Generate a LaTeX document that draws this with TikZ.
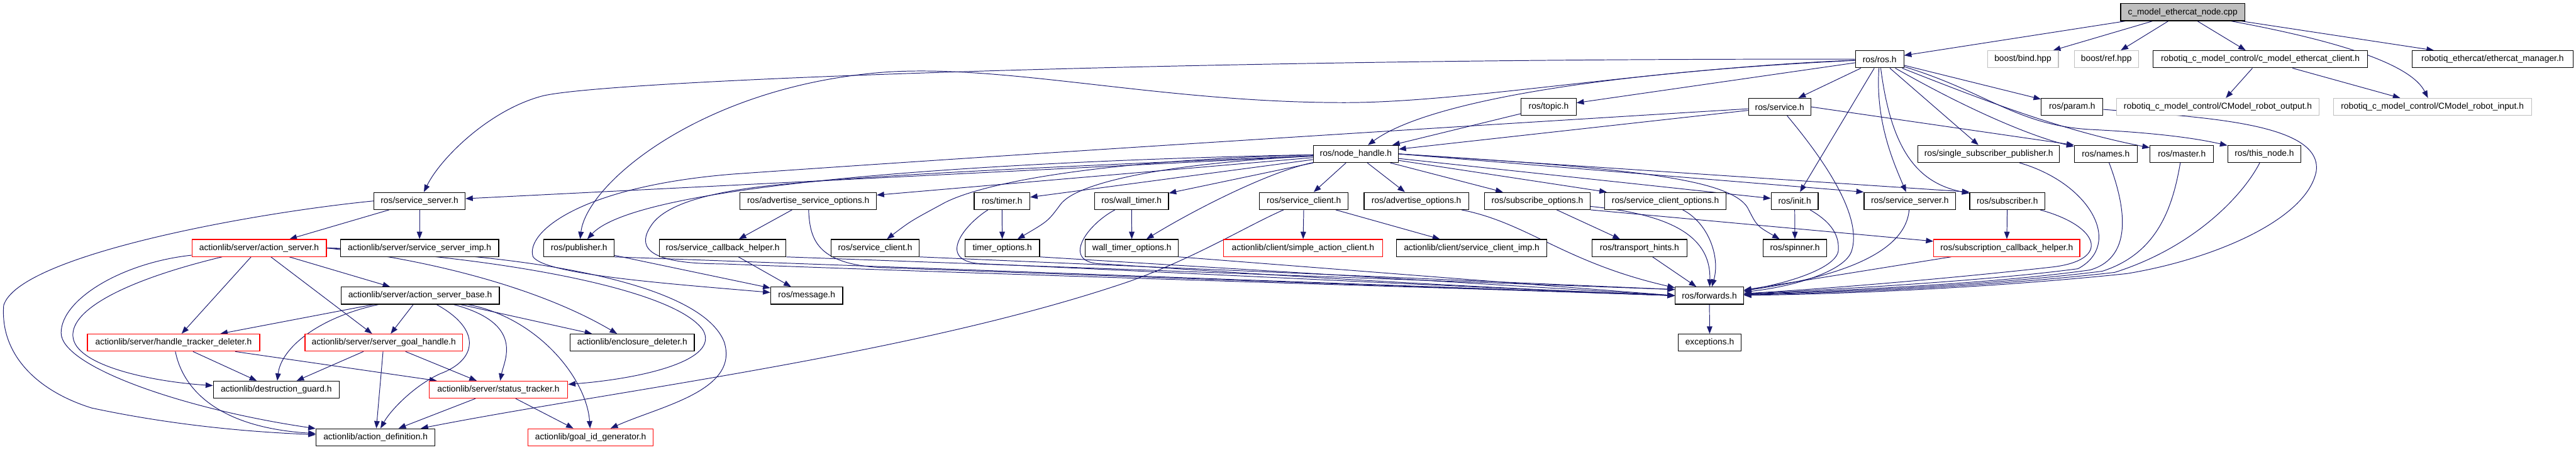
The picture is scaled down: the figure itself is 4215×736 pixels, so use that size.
\documentclass[tikz,border=0pt]{standalone}
\usepackage{fontspec}
\newfontfamily\lblfont{Liberation Sans}
\usetikzlibrary{arrows.meta,backgrounds}
\definecolor{eblue}{HTML}{191970}
\definecolor{gfill}{HTML}{BFBFBF}
\definecolor{gbord}{HTML}{BFBFBF}
\tikzset{
 bx/.style={rectangle, draw=black, line width=0.6pt, fill=white, minimum height=14pt, inner sep=0pt, font=\lblfont\fontsize{7.1}{8.5}\selectfont},
 rbx/.style={bx, draw=red},
 gbx/.style={bx, draw=gbord},
 cbx/.style={bx, fill=gfill},
 dep/.style={draw=eblue, line width=0.5pt, -{Triangle[length=6pt,width=4.5pt]}},
}
\newcommand\bxn[6]{\node[#6, minimum width={(#3-#2)*0.5pt}] (#1) at ({(#2+#3)/2},#4) {#5};}
\begin{document}
\begin{tikzpicture}[x=0.5pt,y=-0.5pt]
\useasboundingbox (0,0) rectangle (4215,736);
% row 0-1
\bxn{cpp}{3470}{3673}{20}{c\_model\_ethercat\_node.cpp}{cbx}
\bxn{ros}{3036}{3115}{97}{ros/ros.h}{bx}
\bxn{bind}{3252}{3368}{97}{boost/bind.hpp}{gbx}
\bxn{ref}{3394}{3499}{97}{boost/ref.hpp}{gbx}
\bxn{client}{3523}{3874}{97}{robotiq\_c\_model\_control/c\_model\_ethercat\_client.h}{bx}
\bxn{mgr}{3947}{4210}{97}{robotiq\_ethercat/ethercat\_manager.h}{bx}
% row 2
\bxn{topic}{2489}{2579}{175}{ros/topic.h}{bx}
\bxn{service}{2861}{2963}{175}{ros/service.h}{bx}
\bxn{param}{3340}{3441}{175}{ros/param.h}{bx}
\bxn{out}{3463}{3795}{175}{robotiq\_c\_model\_control/CModel\_robot\_output.h}{gbx}
\bxn{in}{3818}{4142}{175}{robotiq\_c\_model\_control/CModel\_robot\_input.h}{gbx}
% row 3
\bxn{nh}{2149}{2288}{252}{ros/node\_handle.h}{bx}
\bxn{ssp}{3138}{3370}{252}{ros/single\_subscriber\_publisher.h}{bx}
\bxn{names}{3394}{3497}{252}{ros/names.h}{bx}
\bxn{master}{3518}{3622}{252}{ros/master.h}{bx}
\bxn{thisnode}{3645}{3765}{252}{ros/this\_node.h}{bx}
% row 4
\bxn{ssL}{612}{761}{329}{ros/service\_server.h}{bx}
\bxn{aso}{1211}{1434}{329}{ros/advertise\_service\_options.h}{bx}
\bxn{timer}{1594}{1685}{329}{ros/timer.h}{bx}
\bxn{wtimer}{1791}{1912}{329}{ros/wall\_timer.h}{bx}
\bxn{scA}{2061}{2206}{329}{ros/service\_client.h}{bx}
\bxn{ao}{2232}{2403}{329}{ros/advertise\_options.h}{bx}
\bxn{so}{2429}{2602}{329}{ros/subscribe\_options.h}{bx}
\bxn{sco}{2626}{2824}{329}{ros/service\_client\_options.h}{bx}
\bxn{init}{2898}{2975}{329}{ros/init.h}{bx}
\bxn{ssR}{3050}{3200}{329}{ros/service\_server.h}{bx}
\bxn{sub}{3223}{3346}{329}{ros/subscriber.h}{bx}
% row 5
\bxn{as}{314}{534}{406}{actionlib/server/action\_server.h}{rbx}
\bxn{ssimp}{557}{816}{406}{actionlib/server/service\_server\_imp.h}{bx}
\bxn{pub}{890}{1005}{406}{ros/publisher.h}{bx}
\bxn{sch}{1079}{1286}{406}{ros/service\_callback\_helper.h}{bx}
\bxn{scB}{1360}{1504}{406}{ros/service\_client.h}{bx}
\bxn{to}{1579}{1701}{406}{timer\_options.h}{bx}
\bxn{wto}{1776}{1928}{406}{wall\_timer\_options.h}{bx}
\bxn{sac}{2002}{2262}{406}{actionlib/client/simple\_action\_client.h}{rbx}
\bxn{scimp}{2285}{2531}{406}{actionlib/client/service\_client\_imp.h}{bx}
\bxn{th}{2605}{2760}{406}{ros/transport\_hints.h}{bx}
\bxn{spin}{2885}{2989}{406}{ros/spinner.h}{bx}
\bxn{sbch}{3164}{3403}{406}{ros/subscription\_callback\_helper.h}{rbx}
% row 6
\bxn{asb}{558}{817}{484}{actionlib/server/action\_server\_base.h}{bx}
\bxn{msg}{1261}{1379}{484}{ros/message.h}{bx}
\bxn{fwd}{2741}{2853}{484}{ros/forwards.h}{bx}
% row 7
\bxn{htd}{143}{425}{561}{actionlib/server/handle\_tracker\_deleter.h}{rbx}
\bxn{sgh}{499}{757}{561}{actionlib/server/server\_goal\_handle.h}{rbx}
\bxn{encl}{933}{1136}{561}{actionlib/enclosure\_deleter.h}{bx}
\bxn{exc}{2746}{2849}{561}{exceptions.h}{bx}
% row 8-9
\bxn{dg}{349}{555}{638}{actionlib/destruction\_guard.h}{bx}
\bxn{st}{702}{929}{638}{actionlib/server/status\_tracker.h}{rbx}
\bxn{ad}{517}{712}{716}{actionlib/action\_definition.h}{bx}
\bxn{gid}{864}{1069}{716}{actionlib/goal\_id\_generator.h}{rbx}

\begin{scope}[on background layer]
% top file
\draw[dep] (cpp) -- (ros);
\draw[dep] (cpp) -- (bind);
\draw[dep] (cpp) -- (ref);
\draw[dep] (cpp) -- (client);
\draw[dep] (cpp) -- (mgr);
\draw[dep] (cpp) .. controls (3870,75) and (3950,115) .. (in);
\draw[dep] (client) -- (out);
\draw[dep] (client) -- (in);
% ros/ros.h
\draw[dep] (ros) -- (service);
\draw[dep] (ros) -- (param);
\draw[dep] (ros) -- (init);
\draw[dep] (ros) .. controls (3068,200) and (3100,270) .. (ssR);
\draw[dep] (ros) .. controls (3095,250) and (3140,300) .. (sub);
\draw[dep] (ros) -- (ssp);
\draw[dep] (ros) .. controls (3230,185) and (3330,225) .. (names);
\draw[dep] (ros) .. controls (3260,170) and (3380,215) .. (master);
\draw[dep] (ros) .. controls (3250,150) and (3300,205) .. (3420,212) .. controls (3540,218) and (3600,228) .. (thisnode);
\draw[dep] (ros) -- (topic);
\draw[dep] (ros) .. controls (2600,120) and (2330,170) .. (nh);
\draw[dep] (ros) .. controls (2000,95) and (1000,130) .. (888,157) .. controls (800,180) and (720,260) .. (ssL);
\draw[dep] (ros) .. controls (2700,112) and (2400,168) .. (2200,168) .. controls (1900,168) and (1650,105) .. (1450,118) .. controls (1150,140) and (960,300) .. (pub);
% service, topic, param
\draw[dep] (service) -- (nh);
\draw[dep] (topic) -- (nh);
\draw[dep] (service.east) -- (names.north west);
\draw[dep] (service) .. controls (2500,200) and (1700,250) .. (1200,285) .. controls (950,305) and (860,380) .. (872,420) .. controls (890,450) and (1100,465) .. (msg);
\draw[dep] (service) .. controls (3000,280) and (3045,360) .. (3030,410) .. controls (3020,445) and (2930,470) .. (fwd);
\draw[dep] (param) .. controls (3600,192) and (3800,200) .. (3790,280) .. controls (3775,360) and (3620,425) .. (3480,448) .. controls (3250,472) and (3000,482) .. (fwd);
% row 3 to forwards
\draw[dep] (ssp) .. controls (3420,300) and (3475,400) .. (3400,440) .. controls (3250,460) and (3000,474) .. (fwd);
\draw[dep] (names) .. controls (3475,330) and (3495,420) .. (3420,442) .. controls (3250,466) and (3000,476) .. (fwd);
\draw[dep] (master) .. controls (3555,340) and (3530,415) .. (3440,444) .. controls (3250,468) and (3000,478) .. (fwd);
\draw[dep] (thisnode) .. controls (3670,320) and (3590,405) .. (3460,446) .. controls (3250,470) and (3000,480) .. (fwd);
% node_handle
\draw[dep] (nh) -- (ssL);
\draw[dep] (nh) .. controls (1700,262) and (1050,295) .. (pub);
\draw[dep] (nh) -- (aso);
\draw[dep] (nh) -- (timer);
\draw[dep] (nh) -- (wtimer);
\draw[dep] (nh) -- (scA);
\draw[dep] (nh) -- (ao);
\draw[dep] (nh) -- (so);
\draw[dep] (nh) -- (sco);
\draw[dep] (nh) -- (init);
\draw[dep] (nh.east) -- (ssR.north west);
\draw[dep] (nh.east) -- (sub.north west);
\draw[dep] (nh.east) .. controls (2650,275) and (2840,290) .. (2862,345) .. controls (2875,370) .. (spin);
\draw[dep] (nh) .. controls (1900,268) and (1760,300) .. (1735,335) .. controls (1715,362) .. (to);
\draw[dep] (nh) .. controls (2080,280) and (1960,340) .. (wto);
\draw[dep] (nh) .. controls (1800,262) and (1600,300) .. (1540,335) .. controls (1490,362) .. (scB);
\draw[dep] (nh) .. controls (1800,270) and (1500,282) .. (1300,300) .. controls (1180,310) and (1090,330) .. (1065,370) .. controls (1045,400) and (1050,432) .. (1180,432) .. controls (1700,452) and (2400,472) .. (fwd.west);
% row 4
\draw[dep] (aso) -- (sch);
\draw[dep] (aso) .. controls (1325,390) and (1335,432) .. (1440,438) .. controls (1900,455) and (2400,472) .. (fwd.west);
\draw[dep] (timer) -- (to);
\draw[dep] (timer) .. controls (1575,370) and (1530,430) .. (1610,432) .. controls (2000,450) and (2400,470) .. (fwd.west);
\draw[dep] (wtimer) -- (wto);
\draw[dep] (wtimer) .. controls (1775,370) and (1735,432) .. (1805,432) .. controls (2100,452) and (2400,470) .. (fwd.west);
\draw[dep] (scA) -- (sac);
\draw[dep] (scA) -- (scimp);
\draw[dep] (scA) .. controls (2040,370) and (1960,420) .. (1850,460) .. controls (1500,580) and (1000,640) .. (ad);
\draw[dep] (ao) .. controls (2500,365) and (2560,430) .. (fwd);
\draw[dep] (so.south east) -- (sbch);
\draw[dep] (so) -- (th);
\draw[dep] (so) .. controls (2720,350) and (2800,380) .. (fwd);
\draw[dep] (sco) .. controls (2795,365) and (2815,420) .. (fwd);
\draw[dep] (init) -- (spin);
\draw[dep] (init) .. controls (2990,360) and (3010,380) .. (3008,410) .. controls (3005,440) and (2920,465) .. (fwd);
\draw[dep] (ssR) .. controls (3120,390) and (3070,445) .. (fwd);
\draw[dep] (sub) -- (sbch);
\draw[dep] (sub) .. controls (3435,370) and (3455,425) .. (3360,437) .. controls (3200,455) and (3000,472) .. (fwd);
% row 5
\draw[dep] (sbch) -- (fwd);
\draw[dep] (th) -- (fwd);
\draw[dep] (pub) -- (msg);
\draw[dep] (sch) -- (msg);
\draw[dep] (pub.south east) -- (fwd.west);
\draw[dep] (sch.south east) -- (fwd.170);
\draw[dep] (scB.south east) -- (fwd.170);
\draw[dep] (to.south east) -- (fwd.west);
\draw[dep] (wto.south east) -- (fwd.west);
\draw[dep] (fwd) -- (exc);
% actionlib
\draw[dep] (ssL) -- (as);
\draw[dep] (ssL) -- (ssimp);
\draw[dep] (ssL.west) .. controls (400,350) and (30,420) .. (6,500) .. controls (0,580) and (60,640) .. (150,668) .. controls (300,700) and (430,708) .. (ad);
\draw[dep] (as) .. controls (200,430) and (100,490) .. (100,545) .. controls (100,600) and (300,670) .. (ad);
\draw[dep] (as) .. controls (200,460) and (110,510) .. (120,555) .. controls (130,600) and (250,625) .. (dg);
\draw[dep] (as) -- (htd);
\draw[dep] (as) -- (sgh);
\draw[dep] (as) -- (asb);
\draw[dep] (as.east) .. controls (700,425) and (880,470) .. (encl);
\draw[dep] (as.east) .. controls (800,420) and (1100,470) .. (1150,540) .. controls (1180,590) and (1050,620) .. (st);
\draw[dep] (as.east) .. controls (900,415) and (1150,470) .. (1185,560) .. controls (1210,640) and (1080,665) .. (gid);
\draw[dep] (asb) -- (htd);
\draw[dep] (asb) -- (sgh);
\draw[dep] (asb) .. controls (520,520) and (460,570) .. (dg);
\draw[dep] (asb) .. controls (790,540) and (780,590) .. (720,612) .. controls (680,630) and (640,670) .. (ad);
\draw[dep] (asb) .. controls (860,530) and (825,590) .. (st);
\draw[dep] (asb) .. controls (880,520) and (960,620) .. (gid);
\draw[dep] (asb) -- (encl);
\draw[dep] (htd) -- (dg);
\draw[dep] (htd) .. controls (300,640) and (360,700) .. (ad);
\draw[dep] (htd) -- (st);
\draw[dep] (sgh) -- (dg);
\draw[dep] (sgh) -- (ad);
\draw[dep] (sgh) -- (st);
\draw[dep] (st) -- (ad);
\draw[dep] (st) -- (gid);
\end{scope}
\end{tikzpicture}
\end{document}
